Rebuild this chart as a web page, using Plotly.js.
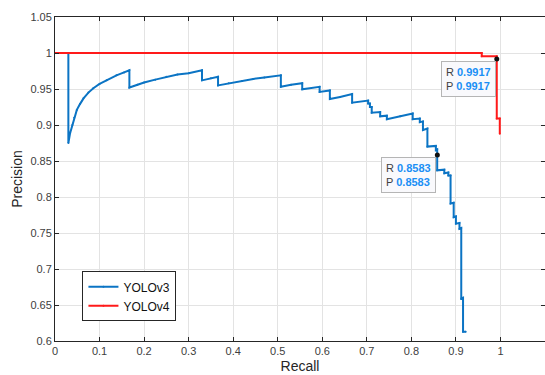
<!DOCTYPE html>
<html>
<head>
<meta charset="utf-8">
<script src="https://cdn.plot.ly/plotly-3.0.1.min.js"></script>
<style>html,body{margin:0;padding:0;background:#fff;}#chart{width:545px;height:375px;}</style>
</head>
<body>
<div id="chart"></div>
<script>
const seriesNames = ['YOLOv3', 'YOLOv4'];

const v3Recall = [0.030,0.030,0.034,0.039,0.043,0.049,0.056,0.064,0.075,0.086,0.100,0.116,0.138,0.155,0.167,
  0.167,0.185,0.200,0.225,0.250,0.275,0.300,0.330,0.330,0.350,0.366,0.366,0.390,0.420,0.445,0.470,0.507,0.507,0.530,0.555,0.555,0.594,0.594,0.617,0.617,
  0.640,0.667,0.667,0.703,0.703,0.707,0.707,0.711,0.711,0.730,0.730,0.745,0.745,0.775,0.803,0.803,0.819,0.819,0.826,0.826,
  0.836,0.836,0.855,0.855,0.858,0.858,0.858,0.874,0.874,0.883,0.883,0.888,0.888,0.895,0.895,0.900,0.900,0.908,
  0.908,0.912,0.912,0.916,0.916,0.922];
const v3Precision = [1.000,0.875,0.889,0.900,0.910,0.921,0.929,0.937,0.945,0.951,0.957,0.962,0.969,0.973,0.976,
  0.952,0.956,0.959,0.963,0.967,0.970,0.972,0.976,0.962,0.965,0.967,0.955,0.958,0.961,0.964,0.966,0.969,0.953,0.956,0.958,0.9495,0.953,0.946,0.948,0.936,
  0.939,0.943,0.931,0.934,0.930,0.930,0.925,0.925,0.917,0.918,0.912,0.913,0.908,0.912,0.916,0.908,0.909,0.904,0.905,0.893,
  0.895,0.870,0.871,0.865,0.866,0.8583,0.837,0.838,0.833,0.834,0.830,0.830,0.791,0.792,0.772,0.773,0.763,0.764,
  0.756,0.757,0.659,0.660,0.613,0.613];

const v4Recall = [0.000,0.958,0.958,0.9917,0.9917,0.9917,0.9985,0.9985];
const v4Precision = [1.000,1.000,0.9955,0.9955,0.9917,0.909,0.909,0.888];

const tipRecall = [0.9917, 0.8583];
const tipPrecision = [0.9917, 0.8583];

const xTicks = [0,0.1,0.2,0.3,0.4,0.5,0.6,0.7,0.8,0.9,1,1.1];
const yTicks = [0.6,0.65,0.7,0.75,0.8,0.85,0.9,0.95,1,1.05];

const blue = '#0b74c4';
const red = '#ff1a1a';

const traces = [
  {x: v3Recall, y: v3Precision, name: seriesNames[0], type: 'scatter', mode: 'lines+markers',
   line: {color: blue, width: 2}, marker: {color: blue, size: 2}},
  {x: v4Recall, y: v4Precision, name: seriesNames[1], type: 'scatter', mode: 'lines+markers',
   line: {color: red, width: 2}, marker: {color: red, size: 2}},
  {x: tipRecall, y: tipPrecision, type: 'scatter', mode: 'markers', showlegend: false, hoverinfo: 'skip',
   marker: {color: '#111', size: 5}}
];

const valColor = '#1b8ff5';
const annotations = tipRecall.map((r, i) => ({
  x: r, y: tipPrecision[i], xref: 'x', yref: 'y', xanchor: 'right', yanchor: 'top',
  xshift: -1, yshift: -2, showarrow: false, align: 'left',
  text: 'R <b><span style="color:' + valColor + '">' + r.toFixed(4) + '</span></b><br>P <b><span style="color:' + valColor + '">' + tipPrecision[i].toFixed(4) + '</span></b>',
  font: {family: 'Liberation Sans, Arial, sans-serif', size: 11, color: '#404040'},
  bgcolor: 'rgba(249,249,252,0.95)', bordercolor: '#b5b5b5', borderwidth: 1, borderpad: 4
}));

const axisCommon = {
  showline: true, linecolor: '#262626', linewidth: 1, mirror: 'ticks',
  ticks: 'inside', ticklen: 4, tickcolor: '#262626', tickwidth: 1,
  showgrid: true, gridcolor: '#e3e3e3', gridwidth: 1, zeroline: false,
  tickfont: {family: 'Liberation Sans, Arial, sans-serif', size: 11, color: '#404040'},
  automargin: false
};

const layout = {
  width: 545, height: 375,
  margin: {l: 55, r: 0, t: 17, b: 34},
  paper_bgcolor: '#fff', plot_bgcolor: '#fff',
  showlegend: true,
  legend: {x: 0.056, y: 0.215, xanchor: 'left', yanchor: 'top', bgcolor: '#fff',
    bordercolor: '#262626', borderwidth: 1,
    font: {family: 'Liberation Sans, Arial, sans-serif', size: 12, color: '#111'},
    tracegroupgap: 0, itemwidth: 30},
  xaxis: Object.assign({}, axisCommon, {range: [0, 1.1], tickvals: xTicks,
    title: {text: 'Recall', standoff: 4, font: {family: 'Liberation Sans, Arial, sans-serif', size: 14, color: '#262626'}}}),
  yaxis: Object.assign({}, axisCommon, {range: [0.6, 1.05], tickvals: yTicks,
    title: {text: 'Precision', standoff: 4, font: {family: 'Liberation Sans, Arial, sans-serif', size: 14, color: '#262626'}}}),
  annotations: annotations
};

Plotly.newPlot('chart', traces, layout, {displayModeBar: false, staticPlot: true});
</script>
</body>
</html>
